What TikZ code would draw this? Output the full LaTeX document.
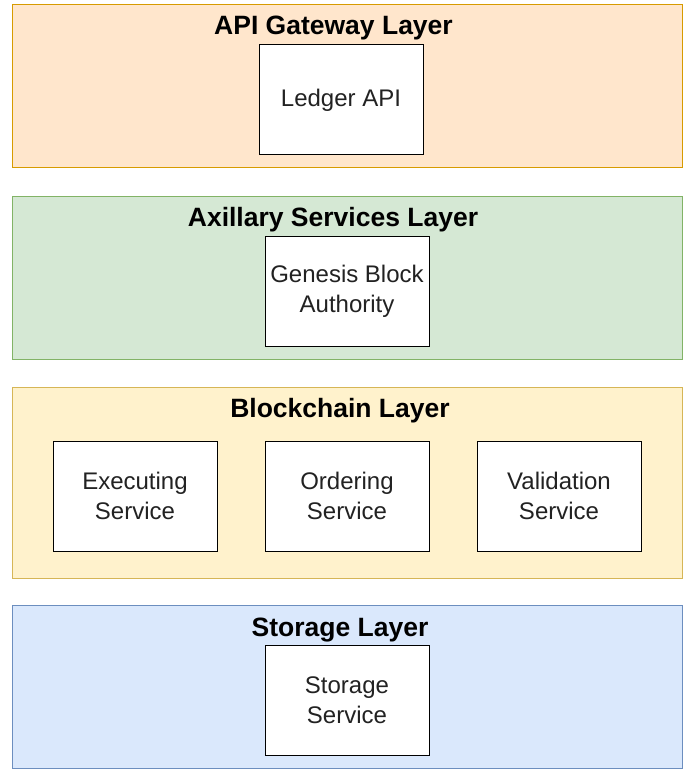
\documentclass[tikz,border=0pt]{standalone}
\usepackage{fontspec}
\setmainfont{Liberation Sans}
\definecolor{apifill}{HTML}{FFE6CC}
\definecolor{apidraw}{HTML}{D79B00}
\definecolor{auxfill}{HTML}{D5E8D4}
\definecolor{auxdraw}{HTML}{82B366}
\definecolor{bcfill}{HTML}{FFF2CC}
\definecolor{bcdraw}{HTML}{D6B656}
\definecolor{stfill}{HTML}{DAE8FC}
\definecolor{stdraw}{HTML}{6C8EBF}
\definecolor{bodytext}{HTML}{222222}
\begin{document}
\begin{tikzpicture}[x=1pt,y=-1pt,
  layer/.style={draw, line width=1pt, rectangle, inner sep=0pt, outer sep=0pt,
    minimum width=670pt, minimum height=163pt},
  layertitle/.style={font=\bfseries\fontsize{26.5}{30}\selectfont, text=black, inner sep=0pt},
  svc/.style={draw=black, line width=1pt, fill=white, rectangle, inner sep=0pt, outer sep=0pt,
    minimum width=164pt, minimum height=110pt, align=center, text=bodytext,
    font=\fontsize{24}{30}\selectfont}]
\useasboundingbox (0,0) rectangle (689,770);
% layers
\node[layer, fill=apifill, draw=apidraw] (L1) at (347,86.5) {};
\node[layer, fill=auxfill, draw=auxdraw] (L2) at (347,277.5) {};
\node[layer, fill=bcfill, draw=bcdraw, minimum height=191pt] (L3) at (347,482.5) {};
\node[layer, fill=stfill, draw=stdraw] (L4) at (347,686.5) {};
% titles
\node[layertitle, anchor=base] (T1) at (333.5,35) {API Gateway Layer};
\node[layertitle, anchor=base] (T2) at (333,226) {Axillary Services Layer};
\node[layertitle, anchor=base] (T3) at (340,417) {Blockchain Layer};
\node[layertitle, anchor=base] (T4) at (340,636) {Storage Layer};
% services
\node[svc] (ledger) at (341,100) {Ledger API};
\node[svc] (genesis) at (347,291.5) {Genesis Block\\Authority};
\node[svc] (exec) at (135,496) {Executing\\Service};
\node[svc] (order) at (347,496) {Ordering\\Service};
\node[svc] (valid) at (559,496) {Validation\\Service};
\node[svc] (storage) at (347,700.5) {Storage\\Service};
\end{tikzpicture}
\end{document}
